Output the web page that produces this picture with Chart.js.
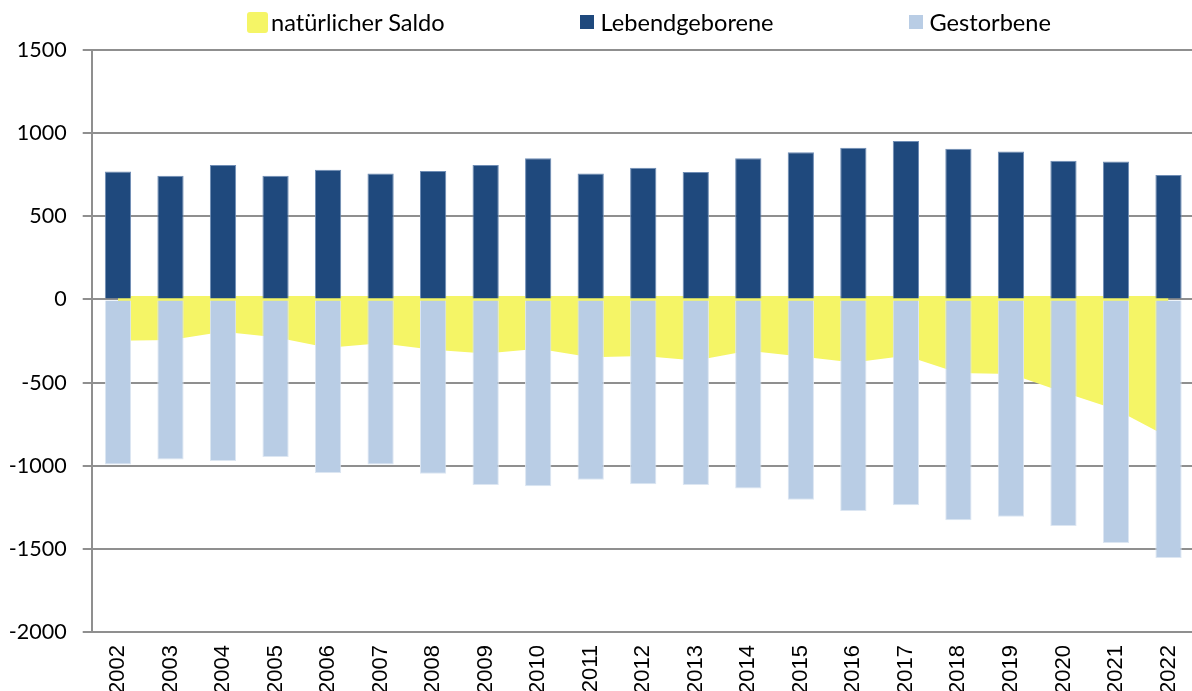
<!DOCTYPE html>
<html lang="de">
<head>
<meta charset="utf-8">
<script src="https://cdn.jsdelivr.net/npm/chart.js@4.4.1/dist/chart.umd.min.js"></script>
<style>
  body { margin: 0; overflow: hidden; background: #fff; }
  #wrap { position: relative; width: 1200px; height: 691px; }
  #legend { position: absolute; top: 0; left: 0; width: 100%; height: 46px;
            font-family: Lato, "Open Sans", sans-serif; font-size: 23.6px; color: #000; }
  .item { position: absolute; top: 8px; height: 28px; display: flex; align-items: center; white-space: nowrap; }
  .box { display: inline-block; }
</style>
</head>
<body>
<div id="wrap">
  <canvas id="chart"></canvas>
  <div id="legend"></div>
</div>
<script>
// Data
const years = ["2002", "2003", "2004", "2005", "2006", "2007", "2008", "2009", "2010", "2011", "2012",
               "2013", "2014", "2015", "2016", "2017", "2018", "2019", "2020", "2021", "2022"];
const lebendgeborene = [770, 744, 808, 744, 780, 758, 772, 808, 849, 758, 792,
                        766, 849, 885, 912, 953, 906, 890, 834, 830, 748];
const gestorbene = [-992, -962, -972, -948, -1044, -992, -1048, -1116, -1124, -1084, -1112,
                    -1116, -1137, -1205, -1272, -1238, -1328, -1307, -1363, -1465, -1555];
const saldo = [-248, -244, -195, -228, -290, -263, -303, -325, -296, -347, -340,
               -368, -308, -343, -380, -338, -443, -448, -558, -662, -829];
const seriesNames = ["natürlicher Saldo", "Lebendgeborene", "Gestorbene"];
const yMin = -2000, yMax = 1500, yStep = 500;

const colors = ["#F5F566", "#1F497D", "#B9CDE5"];
const grey = "#8F8F8F";

// Legend (drawn as html so the wide spacing matches)
const legendPos = [
  { left: 247, box: 21, gap: 3 },
  { left: 580, box: 13.5, gap: 7 },
  { left: 909, box: 13.5, gap: 7 }
];
const legend = document.getElementById("legend");
seriesNames.forEach(function (name, i) {
  const p = legendPos[i];
  const item = document.createElement("div");
  item.className = "item";
  item.style.left = p.left + "px";
  const box = document.createElement("span");
  box.className = "box";
  box.style.width = p.box + "px";
  box.style.height = p.box + "px";
  box.style.background = colors[i];
  box.style.marginRight = p.gap + "px";
  if (i === 0) box.style.borderRadius = "3px";
  const txt = document.createElement("span");
  txt.textContent = name;
  item.appendChild(box);
  item.appendChild(txt);
  legend.appendChild(item);
});

const ctx = document.getElementById("chart").getContext("2d");

new Chart(ctx, {
  data: {
    labels: years,
    datasets: [
      {
        type: "line",
        label: seriesNames[0],
        data: saldo,
        backgroundColor: colors[0],
        borderWidth: 0,
        pointRadius: 0,
        tension: 0,
        fill: { value: 20 },
        order: 3
      },
      {
        type: "bar",
        label: seriesNames[1],
        data: lebendgeborene,
        backgroundColor: colors[1],
        borderColor: "#6F8DB5",
        borderWidth: 1,
        grouped: false,
        barPercentage: 0.5,
        categoryPercentage: 1.0,
        order: 1
      },
      {
        type: "bar",
        label: seriesNames[2],
        data: gestorbene,
        backgroundColor: colors[2],
        borderColor: "#DCE6F2",
        borderWidth: 1,
        grouped: false,
        barPercentage: 0.5,
        categoryPercentage: 1.0,
        order: 2
      }
    ]
  },
  options: {
    responsive: true,
    maintainAspectRatio: false,
    animation: false,
    layout: { padding: { top: 50, right: 3.5, left: 0, bottom: 0 } },
    plugins: {
      legend: { display: false },
      tooltip: { enabled: false }
    },
    scales: {
      x: {
        offset: true,
        grid: { display: false },
        border: { display: false },
        ticks: {
          color: "#000",
          font: { family: "'Liberation Sans', Arial, sans-serif", size: 22 },
          minRotation: 90,
          maxRotation: 90,
          padding: 5,
          autoSkip: false
        },
        afterFit: function (scale) { scale.height = 59; }
      },
      // zero line with the small marks every third year
      x2: {
        type: "category",
        labels: years,
        position: { y: 0 },
        offset: true,
        z: 1,
        ticks: { display: false },
        grid: {
          offset: true,
          drawOnChartArea: false,
          drawTicks: true,
          tickLength: 6,
          lineWidth: 2,
          color: function (c) {
            return (c.index > 0 && c.index % 3 === 0) ? grey : "rgba(0,0,0,0)";
          }
        },
        border: { display: true, color: grey, width: 2 }
      },
      y: {
        min: yMin,
        max: yMax,
        ticks: {
          stepSize: yStep,
          color: "#000",
          font: { family: "Lato, sans-serif", size: 21.5 },
          padding: 16,
          callback: function (value) { return String(value); }
        },
        grid: { color: grey, lineWidth: 2, tickLength: 9 },
        border: { color: grey, width: 2 },
        afterFit: function (scale) { scale.width = 91.7; }
      }
    }
  }
});
</script>
</body>
</html>
